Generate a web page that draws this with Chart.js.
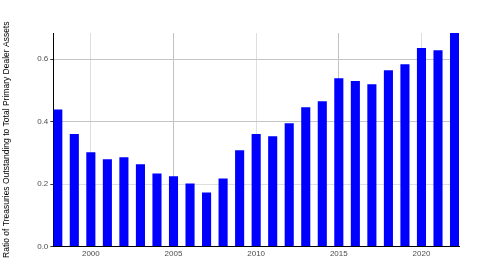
<!DOCTYPE html>
<html>
<head>
<meta charset="utf-8">
<script src="https://cdn.jsdelivr.net/npm/chart.js@4/dist/chart.umd.min.js"></script>
<style>
  html, body { margin: 0; padding: 0; background: #fff; }
  #wrap { width: 490px; height: 276px; position: relative; }
</style>
</head>
<body>
<div id="wrap"><canvas id="ratioChart"></canvas></div>
<script>
// anos e razão Treasuries / ativos totais dos primary dealers
const years = [1998, 1999, 2000, 2001, 2002, 2003, 2004, 2005, 2006, 2007, 2008, 2009, 2010,
               2011, 2012, 2013, 2014, 2015, 2016, 2017, 2018, 2019, 2020, 2021, 2022];
const ratios = [0.439, 0.360, 0.302, 0.279, 0.286, 0.263, 0.234, 0.225, 0.202, 0.173, 0.218, 0.308, 0.360,
                0.353, 0.395, 0.446, 0.465, 0.539, 0.530, 0.520, 0.565, 0.584, 0.636, 0.629, 0.684];
const yTicks = [0, 0.2, 0.4, 0.6];
const xTicks = [2000, 2005, 2010, 2015, 2020];

const axisTitle = "Ratio of Treasuries Outstanding to Total Primary Dealer Assets";

function xGridColor(ctx) {
    const v = ctx.tick ? ctx.tick.value : null;
    if (v === 2005 || v === 2015) return "#c2c2c2";
    return "#dedede";
}

function yGridColor(ctx) {
    const v = ctx.tick ? ctx.tick.value : null;
    if (v === 0) return "rgba(0,0,0,0)";
    if (Math.abs(v - 0.2) < 1e-6) return "#dedede";
    return "#c4c4c4";
}

function renderChart() {
    new Chart(document.getElementById("ratioChart"), {
        type: "bar",
        data: {
            datasets: [{
                data: years.map((y, i) => ({ x: y, y: ratios[i] })),
                backgroundColor: "#0000ff",
                borderWidth: 0,
                barPercentage: 0.55,
                categoryPercentage: 1.0
            }]
        },
        options: {
            responsive: true,
            maintainAspectRatio: false,
            animation: false,
            layout: { padding: { top: 33, right: 31, bottom: 14, left: 2 } },
            plugins: {
                legend: { display: false },
                tooltip: { enabled: false }
            },
            scales: {
                x: {
                    type: "linear",
                    min: 1997.73,
                    max: 2022.27,
                    offset: false,
                    grid: { offset: false, color: xGridColor, lineWidth: 1, drawTicks: false },
                    border: { color: "#000", width: 1 },
                    afterBuildTicks: axis => { axis.ticks = xTicks.map(v => ({ value: v })); },
                    ticks: {
                        callback: v => String(v),
                        color: "#4d4d4d",
                        font: { family: "'Liberation Sans', Arial, sans-serif", size: 8 },
                        padding: 3,
                        maxRotation: 0
                    }
                },
                y: {
                    min: 0,
                    max: 0.684,
                    grid: { color: yGridColor, lineWidth: 1, tickLength: 3, tickColor: "#333" },
                    border: { color: "#000", width: 1 },
                    afterBuildTicks: axis => { axis.ticks = yTicks.map(v => ({ value: v })); },
                    ticks: {
                        callback: v => v.toFixed(1),
                        color: "#4d4d4d",
                        font: { family: "'Liberation Sans', Arial, sans-serif", size: 8 },
                        padding: 2
                    },
                    title: {
                        display: true,
                        text: axisTitle,
                        color: "#000",
                        font: { family: "'Liberation Sans', Arial, sans-serif", size: 8.5 },
                        padding: { top: 0, bottom: 23 }
                    }
                }
            }
        }
    });
}

document.addEventListener("DOMContentLoaded", renderChart);
</script>
</body>
</html>
